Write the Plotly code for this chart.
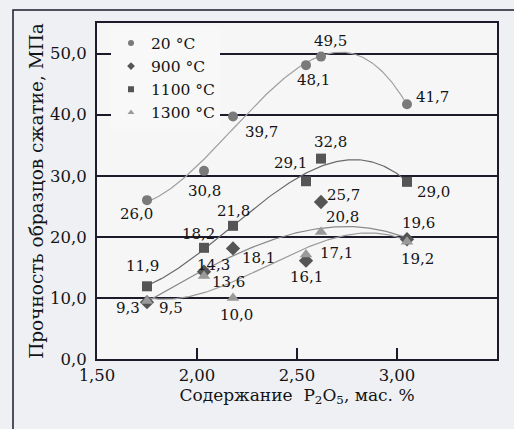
import numpy as np
import plotly.graph_objects as go

# ---- data ----
x_pos = [1.75, 2.035, 2.18, 2.545, 2.62, 3.05]
series_names = ["20 °C", "900 °C", "1100 °C", "1300 °C"]
s20 = [26.0, 30.8, 39.7, 48.1, 49.5, 41.7]
s900 = [9.3, 14.3, 18.1, 16.1, 25.7, 19.6]
s1100 = [11.9, 18.2, 21.8, 29.1, 32.8, 29.0]
s1300 = [9.5, 13.6, 10.0, 17.1, 20.8, 19.2]
y_ticks = [0, 10, 20, 30, 40, 50]
x_ticks = [1.5, 2.0, 2.5, 3.0, 3.5]

# ---- styles ----
FONT = "DejaVu Serif"
INK = "#1e1a2c"
styles = [
    dict(symbol="circle", color="#7a7a7a", size=10, line="#a0a0a0"),
    dict(symbol="diamond", color="#555555", size=11, line="#8a8a8a"),
    dict(symbol="square", color="#555555", size=10, line="#6a6a6a"),
    dict(symbol="triangle-up", color="#9a9a9a", size=11, line="#9a9a9a"),
]
# label offsets (px): dx right, dy down
offsets = [
    [(-11, 14), (0, 20), (28, 16), (7, 15), (9, -16), (25, -7)],
    [(-19, 6), (9, -7), (25, 10), (0, 16), (22, -7), (11, -16)],
    [(-5, -20), (-6, -14), (0, -15), (-16, -18), (9, -17), (26, 10)],
    [(24, 7), (24, 6), (3, 17), (30, -2), (21, -15), (10, 17)],
]

data = [s20, s900, s1100, s1300]
fig = go.Figure()

# trend lines (cubic regression of each series)
for vals, st in zip(data, styles):
    coef = np.polyfit(x_pos, vals, 3)
    xs = np.linspace(min(x_pos), max(x_pos), 200)
    fig.add_trace(go.Scatter(x=xs, y=np.polyval(coef, xs), mode="lines",
                             line=dict(color=st["line"], width=1.2),
                             showlegend=False, hoverinfo="skip"))

for name, vals, st, offs in zip(series_names, data, styles, offsets):
    fig.add_trace(go.Scatter(x=x_pos, y=vals, mode="markers", name=name,
                             marker=dict(symbol=st["symbol"], color=st["color"], size=st["size"]),
                             showlegend=False))
    # legend entry with small marker
    fig.add_trace(go.Scatter(x=[None], y=[None], mode="markers", name=name,
                             marker=dict(symbol=st["symbol"], color=st["color"], size=6)))
    for xv, yv, (dx, dy) in zip(x_pos, vals, offs):
        fig.add_annotation(x=xv, y=yv, xref="x", yref="y",
                           text=f"{yv:.1f}".replace(".", ","), showarrow=False,
                           xshift=dx, yshift=-dy,
                           font=dict(family=FONT, size=15, color="#141414"))

# outer frame of the figure
fig.add_shape(type="rect", xref="paper", yref="paper", x0=-0.21, x1=1.2, y0=-0.4, y1=1.0387,
              line=dict(color=INK, width=1.5), layer="below")

fig.update_layout(
    width=514, height=429,
    margin=dict(l=97, r=17, t=23, b=70),
    paper_bgcolor="#eef0f4",
    plot_bgcolor="#f6f6f7",
    separators=", ",
    font=dict(family=FONT, size=16.5, color="#141414"),
    showlegend=True,
    legend=dict(x=0.035, y=0.99, xanchor="left", yanchor="top",
                bgcolor="#f8f8f8", borderwidth=0, tracegroupgap=0,
                font=dict(family=FONT, size=15.5, color="#141414"),
                itemwidth=30),
    xaxis=dict(range=[1.5, 3.5], tickvals=x_ticks, tickformat=".2f",
               showgrid=False, zeroline=False,
               showline=True, linecolor=INK, linewidth=2, mirror=True,
               ticks="inside", ticklen=11, tickwidth=2, tickcolor=INK,
               title=dict(text="Содержание  P<sub>2</sub>O<sub>5</sub>, мас. %",
                          font=dict(family=FONT, size=17), standoff=4)),
    yaxis=dict(range=[0, 55], tickvals=y_ticks, tickformat=".1f",
               showgrid=True, gridcolor=INK, gridwidth=2, zeroline=False,
               showline=True, linecolor=INK, linewidth=2, mirror=True,
               ticks="", ticklabelstandoff=5,
               title=dict(text="Прочность образцов сжатие, МПа",
                          font=dict(family=FONT, size=18.5), standoff=1)),
)

fig.write_html("out.html")
